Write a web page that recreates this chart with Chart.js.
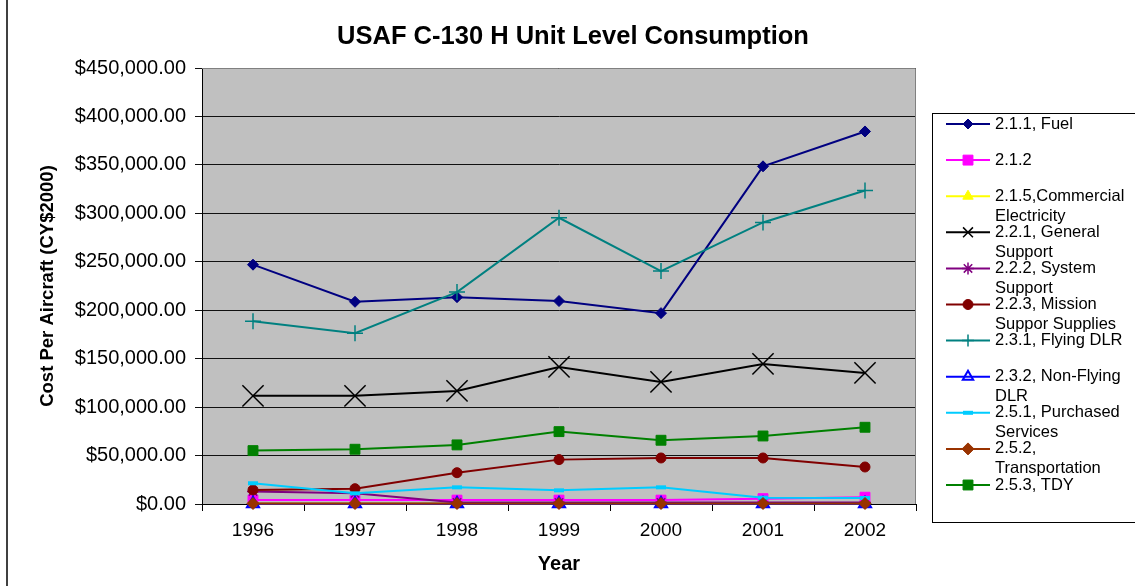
<!DOCTYPE html>
<html>
<head>
<meta charset="utf-8">
<title>USAF C-130 H Unit Level Consumption</title>
<script src="https://cdn.jsdelivr.net/npm/chart.js@4.4.1/dist/chart.umd.min.js"></script>
<style>
  html, body { margin: 0; padding: 0; background: #fff; }
  canvas { display: block; }
</style>
</head>
<body>
<canvas id="costChart" width="1135" height="586"></canvas>
<script>
// -----------------------------
// Data
// -----------------------------
const years = ["1996", "1997", "1998", "1999", "2000", "2001", "2002"];

const fuel           = [247000, 208700, 213500, 209500, 197000, 348500, 384500];
const item212        = [4000, 4000, 4000, 4000, 4000, 5500, 7000];
const commercialElec = [600, 600, 600, 600, 600, 600, 600];
const generalSupport = [111600, 111600, 116700, 141500, 126000, 144600, 135300];
const systemSupport  = [13000, 11000, 1500, 1500, 1500, 1500, 1500];
const missionSupplies = [14500, 15800, 32300, 45800, 47500, 47500, 38200];
const flyingDlr      = [188700, 176300, 218700, 295400, 240400, 290600, 323600];
const nonFlyingDlr   = [300, 250, 200, 200, 250, 300, 300];
const purchased      = [21400, 11000, 17200, 14100, 17200, 6500, 6200];
const transportation = [500, 500, 500, 500, 500, 500, 500];
const tdy            = [55100, 56500, 61000, 74700, 65800, 70200, 79200];

const FONT = '"Liberation Sans", Arial, sans-serif';

// -----------------------------
// Series styling
// -----------------------------
function series(label, data, color, style, radius, opts = {}) {
    return Object.assign({
        label: label,
        data: data,
        borderColor: color,
        backgroundColor: color,
        pointBackgroundColor: color,
        pointBorderColor: color,
        pointStyle: style,
        pointRadius: radius,
        pointBorderWidth: 1,
        borderWidth: 2,
        tension: 0,
        clip: false,
        legendRadius: 5
    }, opts);
}

const datasets = [
    series("2.1.1, Fuel", fuel, "#000080", "rectRot", 5.5, { legendRadius: 5 }),
    series("2.1.2", item212, "#FF00FF", "rect", 7, { legendRadius: 7 }),
    series("2.1.5,Commercial Electricity", commercialElec, "#FFFF00", "triangle", 6, { legendRadius: 6 }),
    series("2.2.1, General Support", generalSupport, "#000000", "crossRot", 15, { pointBorderWidth: 1.5, legendRadius: 7 }),
    series("2.2.2, System Support", systemSupport, "#800080", "star", 6, { pointBorderWidth: 1.5, legendRadius: 6 }),
    series("2.2.3, Mission Suppor Supplies", missionSupplies, "#800000", "circle", 5, { legendRadius: 5 }),
    series("2.3.1, Flying DLR", flyingDlr, "#008080", "cross", 8, { pointBorderWidth: 1.5, legendRadius: 6 }),
    series("2.3.2, Non-Flying DLR", nonFlyingDlr, "#0000FF", "triangle", 7,
        { pointBackgroundColor: "rgba(0,0,0,0)", pointBorderWidth: 2, legendRadius: 6 }),
    series("2.5.1, Purchased Services", purchased, "#00CCFF", "line", 5, { pointBorderWidth: 4, legendRadius: 5 }),
    series("2.5.2, Transportation", transportation, "#993300", "rectRot", 6, { legendRadius: 6 }),
    series("2.5.3, TDY", tdy, "#008000", "rect", 7, { legendRadius: 7 })
];
// Excel draws later series on top
datasets.forEach((ds, i) => { ds.order = datasets.length - i; });

// -----------------------------
// Plugins: plot background, title, legend box
// -----------------------------
const plotBackground = {
    id: "plotBackground",
    beforeDraw(chart) {
        const { ctx, chartArea: a } = chart;
        ctx.save();
        ctx.fillStyle = "#C0C0C0";
        ctx.fillRect(a.left, a.top, a.right - a.left, a.bottom - a.top);
        ctx.restore();
    },
    beforeDatasetsDraw(chart) {
        const { ctx, chartArea: a } = chart;
        ctx.save();
        ctx.strokeStyle = "#808080";
        ctx.lineWidth = 1;
        ctx.beginPath();
        ctx.moveTo(a.left, a.top + 0.5);
        ctx.lineTo(a.right - 0.5, a.top + 0.5);
        ctx.lineTo(a.right - 0.5, a.bottom);
        ctx.stroke();
        ctx.restore();
    }
};

function wrapText(ctx, text, maxWidth) {
    const words = text.split(" ");
    const lines = [];
    let line = "";
    words.forEach(w => {
        const test = line ? line + " " + w : w;
        if (line && ctx.measureText(test).width > maxWidth) {
            lines.push(line);
            line = w;
        } else {
            line = test;
        }
    });
    if (line) lines.push(line);
    return lines;
}

const chartDecor = {
    id: "chartDecor",
    afterDraw(chart) {
        const ctx = chart.ctx;
        ctx.save();

        // outer frame (left edge)
        ctx.strokeStyle = "#000";
        ctx.lineWidth = 1.5;
        ctx.beginPath();
        ctx.moveTo(7, 0);
        ctx.lineTo(7, 586);
        ctx.stroke();

        // title
        ctx.fillStyle = "#000";
        ctx.font = "bold 25.5px " + FONT;
        ctx.textAlign = "center";
        ctx.textBaseline = "middle";
        ctx.fillText("USAF C-130 H Unit Level Consumption", 573, 37);

        // legend box
        ctx.lineWidth = 1;
        ctx.strokeRect(932.5, 113.5, 240, 409);

        ctx.font = "16.5px " + FONT;
        ctx.textAlign = "left";
        chart.data.datasets.forEach((ds, i) => {
            const y = 124 + i * 36.1;
            ctx.strokeStyle = ds.borderColor;
            ctx.lineWidth = 2;
            ctx.beginPath();
            ctx.moveTo(946, y);
            ctx.lineTo(990, y);
            ctx.stroke();

            ctx.fillStyle = ds.pointBackgroundColor;
            ctx.strokeStyle = ds.pointBorderColor;
            ctx.lineWidth = ds.pointBorderWidth;
            Chart.helpers.drawPoint(ctx, {
                pointStyle: ds.pointStyle,
                radius: ds.legendRadius,
                borderWidth: ds.pointBorderWidth,
                rotation: 0
            }, 968, y);

            ctx.fillStyle = "#000";
            wrapText(ctx, ds.label, 140).forEach((t, k) => {
                ctx.fillText(t, 995, y + k * 20);
            });
        });
        ctx.restore();
    }
};

// -----------------------------
// Chart
// -----------------------------
new Chart(document.getElementById("costChart"), {
    type: "line",
    data: { labels: years, datasets: datasets },
    plugins: [plotBackground, chartDecor],
    options: {
        responsive: false,
        animation: false,
        events: [],
        layout: { padding: { top: 68, right: 219, left: 0, bottom: 0 } },
        plugins: {
            legend: { display: false },
            tooltip: { enabled: false },
            title: { display: false }
        },
        scales: {
            x: {
                offset: true,
                grid: { drawOnChartArea: false, offset: true, tickLength: 7, color: "#000" },
                border: { color: "#000", width: 1 },
                ticks: { color: "#000", font: { family: FONT, size: 19 }, padding: 8 },
                title: {
                    display: true, text: "Year", color: "#000",
                    font: { family: FONT, size: 20, weight: "bold" },
                    padding: { top: 0, bottom: 10 }
                },
                afterFit(scale) { scale.height = 82; }
            },
            y: {
                min: 0,
                max: 450000,
                grid: { color: "#111", tickLength: 7 },
                border: { color: "#000", width: 1 },
                ticks: {
                    stepSize: 50000,
                    color: "#000",
                    padding: 9,
                    font: { family: FONT, size: 20 },
                    callback: v => "$" + v.toLocaleString("en-US", { minimumFractionDigits: 2, maximumFractionDigits: 2 })
                },
                title: {
                    display: true, text: "Cost Per Aircraft (CY$2000)", color: "#000",
                    font: { family: FONT, size: 18.5, weight: "bold" },
                    padding: { top: 37, bottom: 0 }
                },
                afterFit(scale) { scale.width = 202; }
            }
        }
    }
});
</script>
</body>
</html>
